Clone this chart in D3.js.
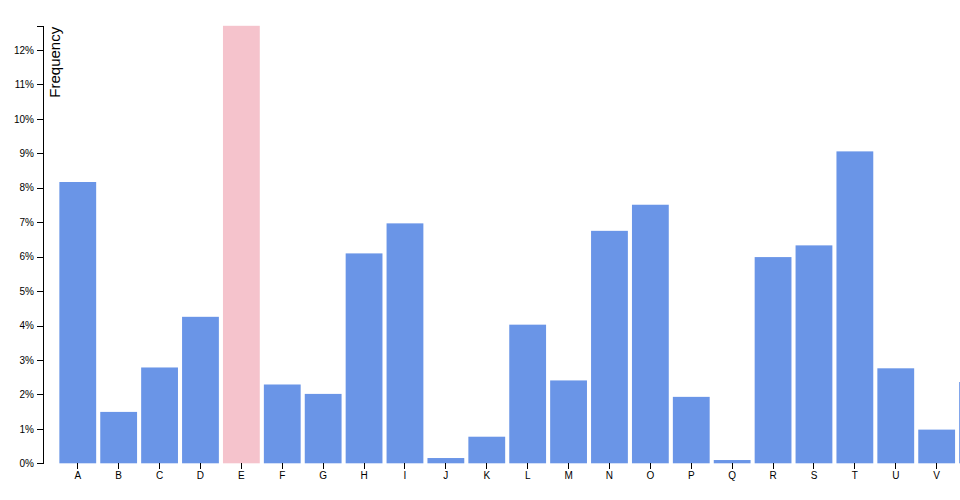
<!DOCTYPE html>
<html>
<head>
<meta charset="utf-8">
<script src="https://cdn.jsdelivr.net/npm/d3@7"></script>
<style>
body { margin: 0; background: #fff; }
svg { display: block; }
.axis text { font: 10px "Liberation Sans", Arial, sans-serif; fill: #000; }
.axis path, .axis line { stroke: #000; shape-rendering: crispEdges; }
</style>
</head>
<body>
<svg width="960" height="500"></svg>
<script>
const letters = ["A","B","C","D","E","F","G","H","I","J","K","L","M","N","O","P","Q","R","S","T","U","V","W","X","Y","Z"];
const frequencies = [0.08167,0.01492,0.02782,0.04253,0.12702,0.02288,0.02015,0.06094,0.06966,0.00153,0.00772,0.04025,0.02406,0.06749,0.07507,0.01929,0.00095,0.05987,0.06327,0.09056,0.02758,0.00978,0.02360,0.00150,0.01974,0.00074];
const highlighted = ["E"];

const data = letters.map((l, i) => ({letter: l, frequency: frequencies[i]}));

const svg = d3.select("svg");
const W = 960;
const x0 = 43, yBottom = 463.3, yTop = 25.8;
const step = 40.9;

const x = d3.scaleBand()
  .domain(letters)
  .range([x0, x0 + step * (26 - 0.1 + 0.8)])
  .paddingInner(0.1)
  .paddingOuter(0.4);

const y = d3.scaleLinear()
  .domain([0, d3.max(frequencies)])
  .range([yBottom, yTop]);

svg.selectAll(".bar")
  .data(data)
  .enter().append("rect")
  .attr("class", "bar")
  .attr("x", d => x(d.letter))
  .attr("width", x.bandwidth())
  .attr("y", d => y(d.frequency))
  .attr("height", d => yBottom - y(d.frequency))
  .attr("fill", d => highlighted.includes(d.letter) ? "#f5c3cc" : "#6a95e7");

// only ticks that fall inside the visible window (the reference is clipped at the right edge)
const visibleLetters = letters.filter(l => x(l) + x.bandwidth() / 2 < W);
const xAxis = svg.append("g")
  .attr("class", "axis")
  .attr("transform", `translate(0,${yBottom})`)
  .call(d3.axisBottom(x).tickValues(visibleLetters).tickSizeOuter(0));
xAxis.select(".domain").remove();

const yAxis = svg.append("g")
  .attr("class", "axis")
  .attr("transform", `translate(${x0},0)`)
  .call(d3.axisLeft(y).tickValues(d3.range(0, 0.13, 0.01)).tickFormat(d3.format(".0%")));

yAxis.append("text")
  .attr("transform", "rotate(-90)")
  .attr("x", -yTop - 1)
  .attr("y", 6)
  .attr("dy", ".71em")
  .style("text-anchor", "end")
  .style("font-size", "15px")
  .text("Frequency");
</script>
</body>
</html>
